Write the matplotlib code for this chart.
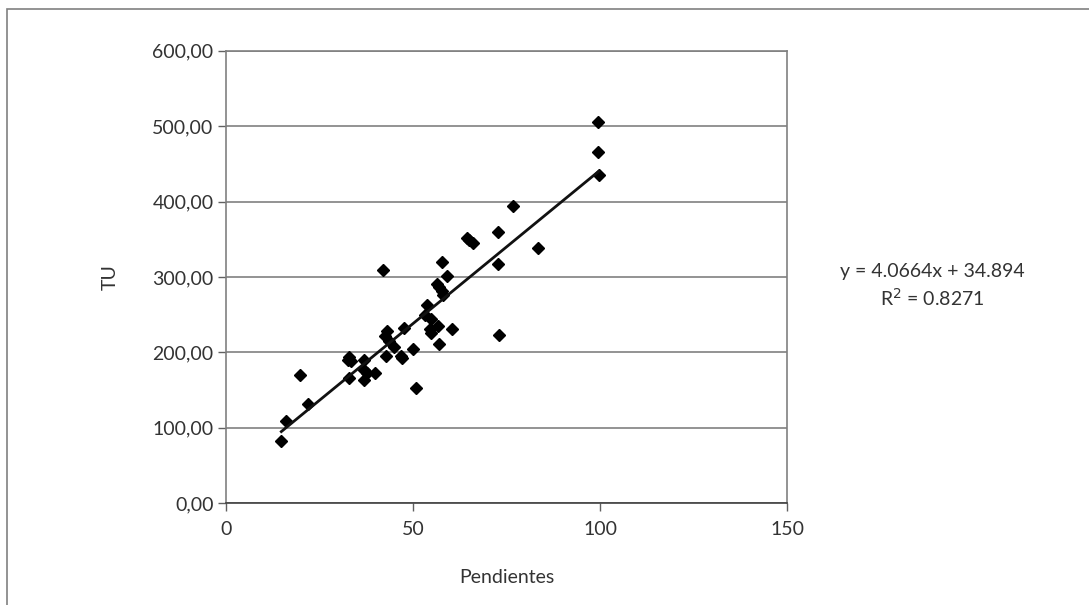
#!/usr/bin/env python3

import matplotlib
matplotlib.use('Agg')
import matplotlib.pyplot as plt
from matplotlib.patches import Rectangle
from matplotlib.ticker import FuncFormatter

# Pendientes vs TU
pendientes = [
    14.8, 16.0, 21.8, 19.7, 33.0, 36.8, 36.9, 37.8, 39.9, 33.0,
    33.4, 32.7, 36.8, 42.9, 46.7, 47.0, 50.7, 49.9, 44.8, 43.5,
    42.6, 43.0, 47.7, 41.9, 60.5, 54.6, 54.8, 56.8, 57.0, 54.8,
    53.2, 53.7, 56.5, 57.0, 57.7, 58.1, 57.8, 59.0, 64.4, 65.1,
    66.0, 72.6, 72.8, 73.1, 76.8, 83.5, 99.5, 99.5, 99.6,
]
tu = [
    82.6, 108.8, 131.9, 170.1, 166.1, 163.1, 176.7, 173.1, 173.1, 194.4,
    188.0, 190.0, 190.0, 194.9, 195.7, 192.0, 153.3, 204.2, 206.6, 215.8,
    221.8, 227.8, 232.0, 309.3, 230.7, 231.1, 225.4, 235.1, 210.9, 243.9,
    249.6, 262.9, 290.7, 286.4, 281.1, 275.5, 319.9, 301.3, 351.1, 348.4,
    344.7, 359.4, 317.2, 222.5, 394.1, 337.8, 505.5, 466.1, 435.2,
]

slope = 4.0664
intercept = 34.894
r2 = 0.8271

x_ticks = [0, 50, 100, 150]
y_ticks = [0, 100, 200, 300, 400, 500, 600]

plt.rcParams['font.family'] = ['Lato', 'DejaVu Sans']
fs = 14
text_color = '#333333'

fig = plt.figure(figsize=(10.89, 6.05), dpi=100)
ax = fig.add_axes([0.2075, 0.1681, 0.5152, 0.7481])

# outer frame of the chart area (only top and left visible)
fig.patches.append(Rectangle((0.0064, -0.05), 1.2, 1.035, transform=fig.transFigure,
                             fill=False, edgecolor='#808080', linewidth=1.2))

ax.set_xlim(0, 150)
ax.set_ylim(0, 600)
ax.set_xticks(x_ticks)
ax.set_yticks(y_ticks)
ax.yaxis.set_major_formatter(FuncFormatter(lambda v, _: f'{v:.2f}'.replace('.', ',')))
ax.grid(True, axis='y', color='#808080', linewidth=1.2)
ax.set_axisbelow(True)
for side in ('left', 'right', 'top'):
    ax.spines[side].set_color('#808080')
    ax.spines[side].set_linewidth(1.2)
ax.spines['bottom'].set_color('#404040')
ax.spines['bottom'].set_linewidth(1.2)
ax.tick_params(direction='out', length=6, width=1, color='#606060',
               labelcolor=text_color, labelsize=fs, pad=3)
ax.tick_params(axis='x', pad=7)

ax.plot(pendientes, tu, linestyle='none', marker='D', markersize=6,
        color='black', zorder=3)

x0, x1 = min(pendientes), max(pendientes)
ax.plot([x0, x1], [slope * x0 + intercept, slope * x1 + intercept],
        color='#111111', linewidth=2, zorder=4)

ax.set_xlabel('Pendientes', color=text_color, fontsize=fs, labelpad=22)
ax.set_ylabel('TU', color=text_color, fontsize=fs, labelpad=24)

fig.text(0.856, 0.551, f'y = {slope}x + {intercept}', ha='center', va='center',
         color=text_color, fontsize=fs)
fig.text(0.856, 0.508, f'R$^2$ = {r2}', ha='center', va='center',
         color=text_color, fontsize=fs)

fig.savefig('out.png', dpi=100)
